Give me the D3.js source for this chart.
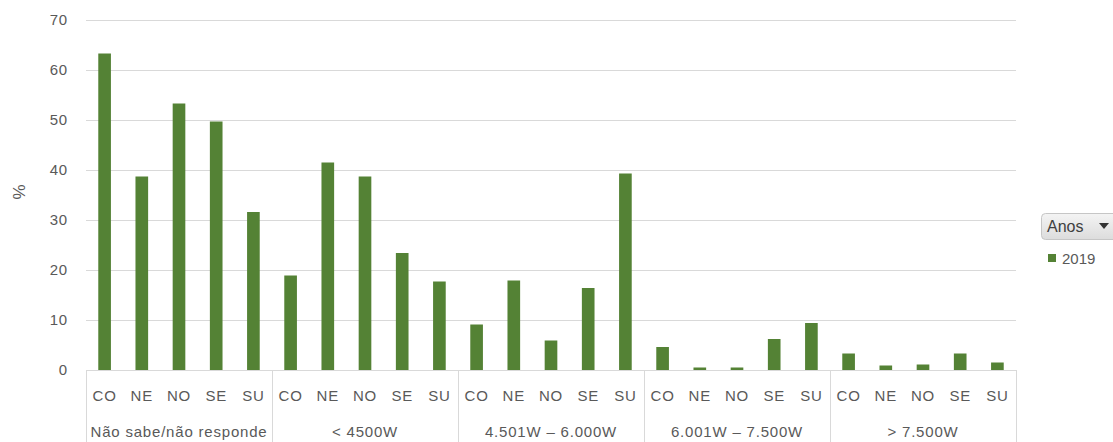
<!DOCTYPE html>
<html><head><meta charset="utf-8">
<script src="https://cdn.jsdelivr.net/npm/d3@7"></script>
<style>body{margin:0;background:#fff}svg text{font-family:"Liberation Sans",Arial,sans-serif}</style>
</head><body><svg id="c" width="1113" height="442"></svg>
<script>
const groups = ["Não sabe/não responde", "< 4500W", "4.501W – 6.000W", "6.001W – 7.500W", "> 7.500W"];
const regions = ["CO", "NE", "NO", "SE", "SU"];
const values2019 = [
  [63.3, 38.7, 53.3, 49.7, 31.6],
  [18.9, 41.5, 38.7, 23.4, 17.7],
  [9.1, 17.9, 5.9, 16.4, 39.3],
  [4.6, 0.5, 0.5, 6.2, 9.4],
  [3.3, 0.9, 1.1, 3.3, 1.5]
];
const yTicks = [0, 10, 20, 30, 40, 50, 60, 70];
const seriesName = "2019";
const legendTitle = "Anos";
const yLabel = "%";

const svg = d3.select("#c");
const mLeft = 86, mRight = 1016, mTop = 20, mBottom = 370;
const data = [];
groups.forEach((g, gi) => regions.forEach((r, ri) => data.push({key: gi + "|" + r, g, r, gi, v: values2019[gi][ri]})));

const x = d3.scaleBand().domain(data.map(d => d.key)).range([mLeft, mRight]).paddingInner(0.66).paddingOuter(0.33);
const xOuter = d3.scaleBand().domain(data.map(d => d.key)).range([mLeft, mRight]);
const y = d3.scaleLinear().domain([0, 70]).range([mBottom, mTop]);
const color = "#548235", gridC = "#d9d9d9", textC = "#595959";

// gridlines
svg.append("g").selectAll("line").data(yTicks.filter(t => t > 0)).join("line")
  .attr("x1", mLeft).attr("x2", mRight).attr("y1", d => y(d) + 0.5).attr("y2", d => y(d) + 0.5)
  .attr("stroke", gridC).attr("stroke-width", 1);

// y axis labels
const ya = svg.append("g").attr("transform", `translate(${mLeft},0)`)
  .call(d3.axisLeft(y).tickValues(yTicks).tickSize(0).tickPadding(18));
ya.select(".domain").remove();
ya.selectAll("text").attr("fill", textC).style("font-size", "15px").style("letter-spacing", "0.8px")
  .style("font-family", "Liberation Sans, Arial, sans-serif");

svg.append("text").attr("transform", `translate(25,192) rotate(-90)`).attr("text-anchor", "middle")
  .attr("fill", textC).style("font-size", "17px").text(yLabel);

// bars
svg.append("g").selectAll("rect").data(data).join("rect")
  .attr("x", d => x(d.key)).attr("width", x.bandwidth())
  .attr("y", d => y(d.v)).attr("height", d => y(0) - y(d.v))
  .attr("fill", color);

// baseline
svg.append("line").attr("x1", mLeft).attr("x2", mRight).attr("y1", mBottom + 0.5).attr("y2", mBottom + 0.5)
  .attr("stroke", gridC);

// group separators
const bounds = groups.map((g, gi) => xOuter(gi + "|" + regions[0]));
bounds.push(mRight);
svg.append("g").selectAll("line").data(bounds).join("line")
  .attr("x1", d => Math.round(d) + 0.5).attr("x2", d => Math.round(d) + 0.5)
  .attr("y1", mBottom).attr("y2", 442).attr("stroke", gridC);

// region labels
svg.append("g").selectAll("text").data(data).join("text")
  .attr("x", d => xOuter(d.key) + xOuter.bandwidth() / 2).attr("y", 401)
  .attr("text-anchor", "middle").attr("fill", textC).style("font-size", "15px").style("letter-spacing", "0.8px").text(d => d.r);

// group labels
svg.append("g").selectAll("text").data(groups).join("text")
  .attr("x", (d, i) => (bounds[i] + bounds[i + 1]) / 2).attr("y", 437)
  .attr("text-anchor", "middle").attr("fill", textC).style("font-size", "15px").style("letter-spacing", "0.8px").text(d => d);

// legend
const defs = svg.append("defs");
const grad = defs.append("linearGradient").attr("id", "btn").attr("x1", 0).attr("x2", 0).attr("y1", 0).attr("y2", 1);
grad.append("stop").attr("offset", "0").attr("stop-color", "#f4f4f4");
grad.append("stop").attr("offset", "1").attr("stop-color", "#dcdcdc");
const lg = svg.append("g");
lg.append("rect").attr("x", 1041.5).attr("y", 213.5).attr("width", 80).attr("height", 26).attr("rx", 4)
  .attr("fill", "url(#btn)").attr("stroke", "#c6c6c6");
lg.append("text").attr("x", 1047).attr("y", 232).attr("fill", "#404040").style("font-size", "16px").text(legendTitle);
lg.append("path").attr("d", "M1099,223 L1109,223 L1104,229 Z").attr("fill", "#333");
lg.append("rect").attr("x", 1048).attr("y", 254).attr("width", 8).attr("height", 8).attr("fill", color);
lg.append("text").attr("x", 1062).attr("y", 264).attr("fill", textC).style("font-size", "15px").text(seriesName);
</script></body></html>
